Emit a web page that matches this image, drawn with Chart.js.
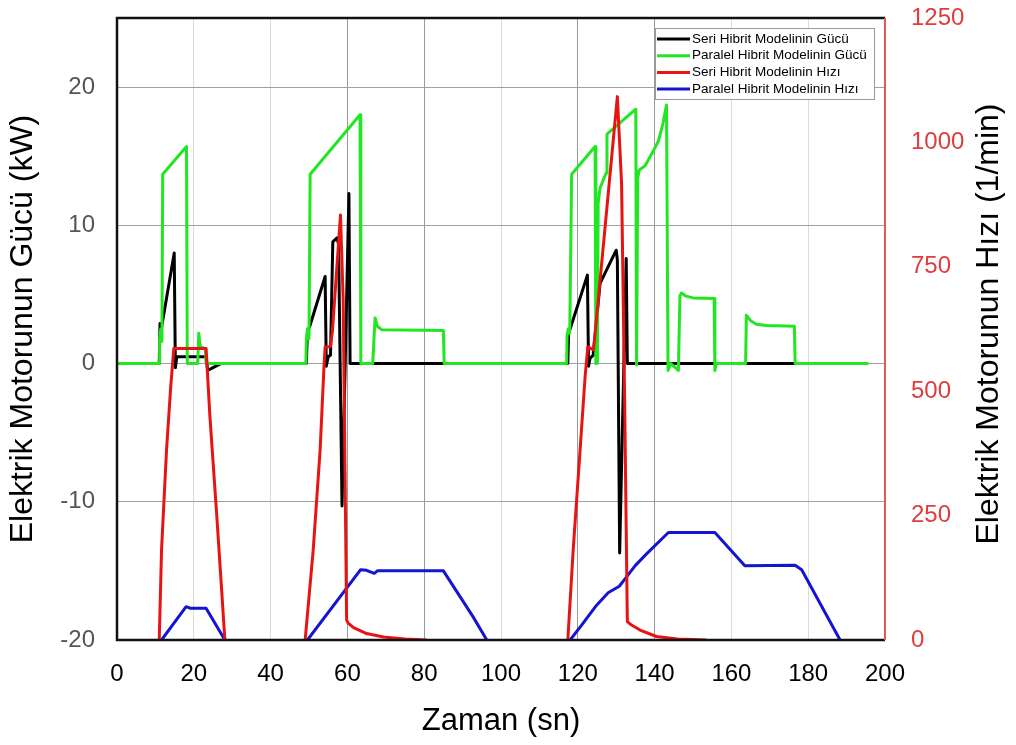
<!DOCTYPE html>
<html>
<head>
<meta charset="utf-8">
<script src="https://cdn.jsdelivr.net/npm/chart.js@4.4.1/dist/chart.umd.min.js"></script>
<style>
  html, body { margin: 0; padding: 0; background: #fff; }
  #kutu { width: 1016px; height: 745px; }
</style>
</head>
<body>
<div id="kutu"><canvas id="grafik" width="1016" height="745"></canvas></div>
<script>
// --- VERİLER (zaman sn, güç kW, hız 1/min) ---
const seriGucT  = [0, 11.0, 11.2, 11.6, 14.9, 15.2, 15.6, 23.2, 23.6, 25.0, 27.0, 49.3, 49.6, 50.2, 54.2, 54.5, 55.0, 55.6, 56.2, 57.3, 57.7, 58.6, 60.4, 60.7, 117.4, 117.6, 118.0, 122.5, 122.8, 123.2, 124.0, 125.8, 130.0, 130.3, 130.9, 132.6, 132.9, 195.5];
const seriGucKW = [0, 0, 2.9, 2.6, 8.0, -0.3, 0.5, 0.5, -0.5, -0.3, 0, 0, 2.3, 2.7, 6.3, -0.2, 0.5, 0.6, 8.8, 9.1, 8.6, -10.3, 12.3, 0, 0, 2.2, 2.5, 6.4, -0.2, 0.4, 0.6, 5.8, 8.2, 7.5, -13.7, 7.6, 0, 0];

const paralelGucT  = [0, 11.0, 11.1, 11.4, 11.7, 11.9, 18.1, 18.3, 21.0, 21.3, 21.7, 23.0, 23.2, 49.2, 49.3, 49.6, 50.0, 50.3, 63.3, 63.5, 66.6, 67.2, 67.8, 68.9, 85.0, 85.2, 117.1, 117.2, 117.5, 117.9, 118.4, 124.5, 124.7, 125.1, 125.3, 125.8, 127.4, 127.6, 135.1, 135.3, 135.6, 136.0, 137.5, 139.5, 141.0, 142.2, 143.1, 143.5, 144.2, 146.2, 146.6, 147.0, 148.0, 150.0, 155.5, 155.7, 156.0, 163.7, 163.9, 165.0, 166.5, 169.2, 176.4, 176.6, 195.7];
const paralelGucKW = [0, 0, 1.7, 2.5, 1.6, 13.7, 15.7, 0, 0, 2.2, 1.2, 1.1, 0, 0, 1.7, 2.5, 1.8, 13.7, 18.0, 0, 0, 3.3, 2.7, 2.45, 2.4, 0, 0, 2.0, 2.5, 2.2, 13.7, 15.7, 0, 0, 11.6, 12.7, 13.8, 16.6, 18.4, -0.1, 13.4, 14.0, 14.3, 15.3, 16.1, 17.4, 18.7, -0.5, 0, -0.5, 4.9, 5.1, 4.9, 4.75, 4.7, -0.5, 0, 0, 3.5, 3.1, 2.85, 2.75, 2.7, 0, 0];

const seriHizT   = [11.0, 11.3, 11.6, 12.9, 14.0, 14.8, 23.2, 24.2, 26.0, 28.1, 38, 49.0, 51.1, 52.9, 53.9, 54.2, 55.6, 56.1, 58.2, 58.9, 59.8, 60.2, 61.6, 65.0, 69.4, 75.0, 80.6, 100, 117.4, 118.8, 120.6, 121.9, 122.6, 124.1, 130.3, 131.4, 132.2, 132.9, 134.0, 136.2, 140.5, 146.0, 153.5];
const seriHizRpm = [0, 90, 181, 382, 510, 586, 586, 449, 248, 0, null, 0, 181, 382, 549, 589, 590, 620, 854, 683, 40, 34, 25, 13, 6, 2, 0, null, 0, 181, 382, 529, 589, 583, 1092, 918, 482, 37, 30, 20, 7, 2, 0];

const paralelHizT   = [11.6, 18.0, 19.0, 23.2, 28.1, 38, 49.6, 63.4, 65.0, 67.0, 67.8, 85.0, 92.7, 96.3, 105, 118.0, 121.0, 124.9, 127.9, 130.8, 132.5, 134.9, 137.9, 143.6, 155.7, 163.5, 176.6, 178.3, 188.3];
const paralelHizRpm = [0, 67, 64, 64, 0, null, 0, 141, 140, 134, 139, 139, 47, 0, null, 0, 30, 70, 95, 108, 125, 149, 173, 216, 216, 149, 150, 141, 0];

const xTikler = [0, 20, 40, 60, 80, 100, 120, 140, 160, 180, 200];

function noktalar(t, v) {
    return t.map((x, i) => ({ x: x, y: v[i] }));
}

Chart.defaults.font.family = '"Liberation Sans", Arial, sans-serif';
Chart.defaults.color = '#000';

// --- ÇERÇEVE ---
const cerceve = {
    id: 'cerceve',
    afterDatasetsDraw(chart) {
        const { ctx, chartArea: a } = chart;
        ctx.save();
        ctx.lineWidth = 2.5;
        ctx.strokeStyle = '#111';
        ctx.beginPath();
        ctx.moveTo(a.right, a.top);
        ctx.lineTo(a.left, a.top);
        ctx.lineTo(a.left, a.bottom);
        ctx.lineTo(a.right, a.bottom);
        ctx.stroke();
        ctx.lineWidth = 2;
        ctx.strokeStyle = '#e05a5a';
        ctx.beginPath();
        ctx.moveTo(a.right, a.top);
        ctx.lineTo(a.right, a.bottom);
        ctx.stroke();
        ctx.restore();
    }
};

// --- LEJANT VE SAĞ EKSEN BAŞLIĞI ---
const lejant = {
    id: 'lejant',
    afterDraw(chart) {
        const ctx = chart.ctx;
        ctx.save();
        ctx.fillStyle = '#fff';
        ctx.fillRect(655, 28, 219, 71);
        ctx.strokeStyle = '#999';
        ctx.lineWidth = 1;
        ctx.strokeRect(655.5, 28.5, 219, 71);
        ctx.font = '13.5px "Liberation Sans", Arial, sans-serif';
        ctx.textBaseline = 'middle';
        ctx.textAlign = 'left';
        chart.data.datasets.forEach((ds, i) => {
            const y = 39 + i * 16.7;
            ctx.strokeStyle = ds.borderColor;
            ctx.lineWidth = 3;
            ctx.beginPath();
            ctx.moveTo(657, y);
            ctx.lineTo(690, y);
            ctx.stroke();
            ctx.fillStyle = '#000';
            ctx.fillText(ds.label, 692, y);
        });

        ctx.translate(989, 324);
        ctx.rotate(-Math.PI / 2);
        ctx.textAlign = 'center';
        ctx.font = '32px "Liberation Sans", Arial, sans-serif';
        ctx.fillStyle = '#000';
        ctx.fillText('Elektrik Motorunun Hızı (1/min)', 0, 0);
        ctx.restore();
    }
};

function dikeyBoyut(genislik) {
    return (s) => { s.width = genislik; s.paddingTop = 0; s.paddingBottom = 0; };
}

new Chart(document.getElementById('grafik'), {
    type: 'line',
    data: {
        datasets: [
            { label: 'Seri Hibrit Modelinin Gücü', data: noktalar(seriGucT, seriGucKW), borderColor: '#000000', yAxisID: 'y', order: 2 },
            { label: 'Paralel Hibrit Modelinin Gücü', data: noktalar(paralelGucT, paralelGucKW), borderColor: '#22e622', yAxisID: 'y', order: 1 },
            { label: 'Seri Hibrit Modelinin Hızı', data: noktalar(seriHizT, seriHizRpm), borderColor: '#e81414', yAxisID: 'y1', order: 0 },
            { label: 'Paralel Hibrit Modelinin Hızı', data: noktalar(paralelHizT, paralelHizRpm), borderColor: '#1414d2', yAxisID: 'y1', order: 3 }
        ]
    },
    options: {
        responsive: false,
        animation: false,
        devicePixelRatio: 1,
        layout: { padding: { top: 18, left: 0, right: 0, bottom: 0 } },
        elements: {
            point: { radius: 0 },
            line: { borderWidth: 3, tension: 0, borderJoinStyle: 'round' }
        },
        spanGaps: false,
        plugins: { legend: { display: false }, tooltip: { enabled: false } },
        scales: {
            x: {
                type: 'linear',
                min: 0, max: 200,
                afterBuildTicks: (s) => { s.ticks = xTikler.map(v => ({ value: v })); },
                afterFit: (s) => { s.height = 105; s.paddingLeft = 0; s.paddingRight = 0; },
                ticks: { font: { size: 24 }, color: '#000', padding: 20, maxRotation: 0 },
                grid: {
                    drawTicks: false,
                    color: (c) => [60, 80, 120, 140].includes(c.tick && c.tick.value) ? '#9a9a9a' : '#dcdcdc'
                },
                border: { display: false },
                title: { display: true, text: 'Zaman (sn)', font: { size: 31 }, color: '#000', padding: { top: 0, bottom: 5 } }
            },
            y: {
                position: 'left',
                min: -20, max: 25,
                ticks: { stepSize: 10, font: { size: 24 }, color: '#555', padding: 22 },
                afterBuildTicks: (s) => { s.ticks = s.ticks.filter(t => t.value !== 25); },
                afterFit: dikeyBoyut(117),
                grid: { drawTicks: false, color: '#a0a0a0' },
                border: { display: false },
                title: { display: true, text: 'Elektrik Motorunun Gücü (kW)', font: { size: 32 }, color: '#000', padding: { top: 4, bottom: 0 } }
            },
            y1: {
                position: 'right',
                min: 0, max: 1250,
                ticks: { stepSize: 250, font: { size: 24 }, color: '#e03c3c', padding: 26, callback: (v) => String(v) },
                afterFit: dikeyBoyut(131),
                grid: { display: false, drawTicks: false },
                border: { display: false }
            }
        }
    },
    plugins: [cerceve, lejant]
});
</script>
</body>
</html>
